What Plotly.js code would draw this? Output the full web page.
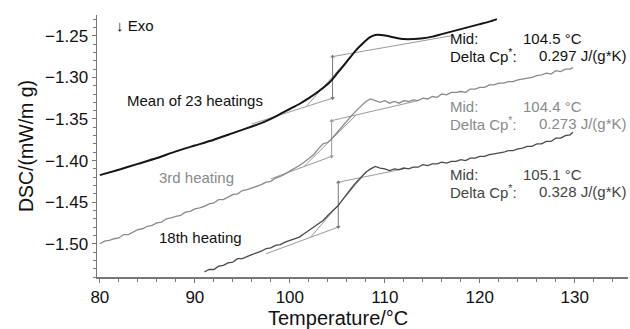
<!DOCTYPE html>
<html><head><meta charset="utf-8">
<script src="https://cdn.plot.ly/plotly-3.0.1.min.js"></script>
<style>html,body{margin:0;padding:0;background:#fff}#c{width:630px;height:329px}</style>
</head><body><div id="c"></div>
<script>
// ---- Data ----
const meanX = [80,82,84,86,88,90,92,94,96,97,98,99,100,101,102,103,104,104.5,105,106,107,107.7,108.4,109,109.6,110.2,111,112,113,114,115,116,117,118,119,120,121,121.8];
const meanY = [-1.4175,-1.411,-1.404,-1.397,-1.389,-1.382,-1.375,-1.367,-1.359,-1.355,-1.350,-1.344,-1.338,-1.332,-1.325,-1.317,-1.308,-1.302,-1.295,-1.281,-1.267,-1.259,-1.252,-1.249,-1.249,-1.250,-1.252,-1.254,-1.254,-1.253,-1.251,-1.248,-1.245,-1.242,-1.239,-1.236,-1.233,-1.230];

const h3X = [80,80.5,81,81.5,82,82.5,83,83.5,84,84.5,85,85.5,86,86.5,87,87.5,88,88.5,89,89.5,90,90.5,91,91.5,92,92.5,93,93.5,94,94.5,95,95.5,96,96.5,97,97.5,98,98.5,99,99.5,100,100.5,101,101.5,102,102.5,103,103.5,104,104.4,105,105.5,106,106.5,107,107.5,108,108.5,109,109.5,110,110.5,111,111.5,112,112.5,113,113.5,114,114.5,115,115.5,116,116.5,117,117.5,118,118.5,119,119.5,120,120.5,121,121.5,122,122.5,123,123.5,124,124.5,125,125.5,126,126.5,127,127.5,128,128.5,129,129.5,129.8];
const h3Y = [-1.500,-1.497,-1.496,-1.494,-1.493,-1.489,-1.489,-1.486,-1.483,-1.482,-1.479,-1.478,-1.475,-1.474,-1.470,-1.469,-1.467,-1.466,-1.462,-1.461,-1.458,-1.457,-1.455,-1.452,-1.451,-1.447,-1.447,-1.444,-1.441,-1.440,-1.436,-1.435,-1.433,-1.431,-1.429,-1.426,-1.425,-1.421,-1.419,-1.416,-1.413,-1.410,-1.406,-1.402,-1.397,-1.393,-1.386,-1.380,-1.378,-1.374,-1.366,-1.359,-1.353,-1.346,-1.340,-1.335,-1.329,-1.326,-1.328,-1.330,-1.328,-1.331,-1.329,-1.331,-1.328,-1.329,-1.327,-1.328,-1.325,-1.326,-1.323,-1.324,-1.320,-1.321,-1.318,-1.318,-1.317,-1.318,-1.314,-1.314,-1.312,-1.312,-1.309,-1.309,-1.307,-1.307,-1.305,-1.305,-1.303,-1.302,-1.301,-1.300,-1.298,-1.297,-1.295,-1.296,-1.292,-1.293,-1.290,-1.290,-1.288];

const h18X = [91,91.5,92,92.5,93,93.5,94,94.5,95,95.5,96,96.5,97,97.5,98,98.5,99,99.5,100,100.5,101,101.5,102,102.5,103,103.5,104,104.5,105.1,105.5,106,106.5,107,107.5,108,108.5,109,109.5,110,110.5,111,111.5,112,112.5,113,113.5,114,114.5,115,115.5,116,116.5,117,117.5,118,118.5,119,119.5,120,120.5,121,121.5,122,122.5,123,123.5,124,124.5,125,125.5,126,126.5,127,127.5,128,128.5,129,129.5,129.8];
const h18Y = [-1.534,-1.531,-1.531,-1.527,-1.526,-1.523,-1.522,-1.518,-1.518,-1.515,-1.513,-1.511,-1.509,-1.506,-1.505,-1.502,-1.501,-1.498,-1.496,-1.494,-1.492,-1.488,-1.484,-1.480,-1.476,-1.472,-1.466,-1.461,-1.454,-1.448,-1.440,-1.433,-1.426,-1.420,-1.414,-1.410,-1.407,-1.409,-1.410,-1.412,-1.410,-1.411,-1.409,-1.410,-1.408,-1.408,-1.405,-1.406,-1.404,-1.404,-1.402,-1.403,-1.401,-1.401,-1.399,-1.400,-1.397,-1.397,-1.395,-1.395,-1.393,-1.392,-1.391,-1.390,-1.388,-1.388,-1.386,-1.385,-1.383,-1.383,-1.380,-1.380,-1.377,-1.377,-1.373,-1.373,-1.370,-1.369,-1.366];

// Glass-transition evaluation construction lines: lower baseline, step arrow, upper baseline, inflection tangent
const meanLowerX = [96,104.5],    meanLowerY = [-1.356,-1.325];
const meanStepX  = [104.5,104.5], meanStepY  = [-1.325,-1.275];
const meanUpperX = [104.5,117],   meanUpperY = [-1.275,-1.250];
const meanTanX   = [101.8,106.7], meanTanY   = [-1.334,-1.271];

const h3LowerX = [98,104.4],    h3LowerY = [-1.422,-1.395];
const h3StepX  = [104.4,104.4], h3StepY  = [-1.395,-1.352];
const h3UpperX = [104.4,113.5], h3UpperY = [-1.352,-1.328];
const h3TanX   = [101.5,107],   h3TanY   = [-1.407,-1.345];

const h18LowerX = [97.5,105.1],  h18LowerY = [-1.512,-1.480];
const h18StepX  = [105.1,105.1], h18StepY  = [-1.480,-1.426];
const h18UpperX = [105.1,112],   h18UpperY = [-1.426,-1.410];
const h18TanX   = [102.2,107.6], h18TanY   = [-1.492,-1.420];

const seriesLabels = ["Mean of 23 heatings","3rd heating","18th heating"];
const midValues = ["104.5 °C","104.4 °C","105.1 °C"];
const cpValues = ["0.297 J/(g*K)","0.273 J/(g*K)","0.328 J/(g*K)"];

// ---- Figure ----
const FONT = "Liberation Sans, Arial, Helvetica, sans-serif";
const cMean = "#151515", c3 = "#8a8a8a", c18 = "#4a4a4a", cCon = "#9a9a9a";

function seg(x, y, color) {
  return {x, y, type:"scatter", mode:"lines", line:{color, width:1}, hoverinfo:"skip", showlegend:false};
}
function step(x, y, color) {
  return {x, y, type:"scatter", mode:"lines+markers", line:{color, width:1},
    marker:{symbol:["triangle-down","triangle-up"], size:4, color}, hoverinfo:"skip", showlegend:false};
}

const traces = [
  seg(meanLowerX, meanLowerY, cCon), seg(meanUpperX, meanUpperY, cCon), seg(meanTanX, meanTanY, cCon), step(meanStepX, meanStepY, "#777"),
  seg(h3LowerX, h3LowerY, cCon), seg(h3UpperX, h3UpperY, cCon), seg(h3TanX, h3TanY, cCon), step(h3StepX, h3StepY, "#999"),
  seg(h18LowerX, h18LowerY, cCon), seg(h18UpperX, h18UpperY, cCon), seg(h18TanX, h18TanY, cCon), step(h18StepX, h18StepY, "#777"),
  {x:h3X, y:h3Y, type:"scatter", mode:"lines", line:{color:c3, width:1.3}, showlegend:false},
  {x:h18X, y:h18Y, type:"scatter", mode:"lines", line:{color:c18, width:1.3}, showlegend:false},
  {x:meanX, y:meanY, type:"scatter", mode:"lines", line:{color:cMean, width:2, shape:"spline", smoothing:0.6}, showlegend:false}
];

function txt(x, y, text, color, size) {
  return {x, y, xref:"x", yref:"y", text, showarrow:false, xanchor:"left", yanchor:"middle",
    font:{family:FONT, size:size||15, color}};
}
const xMid = 116.6, xMidVal = 124.3, xCpVal = 126.0;
const annotations = [
  txt(81.5, -1.238, "↓ Exo", "#111", 15),
  txt(82.6, -1.328, seriesLabels[0], "#111"),
  txt(86.0, -1.420, seriesLabels[1], c3),
  txt(86.0, -1.493, seriesLabels[2], "#111"),
  txt(xMid, -1.2536, "Mid:", "#111"), txt(xMidVal, -1.2536, midValues[0], "#111"),
  txt(xMid, -1.2741, "Delta Cp<sup>*</sup>:", "#111"), txt(xCpVal, -1.2741, cpValues[0], "#111"),
  txt(xMid, -1.3355, "Mid:", c3), txt(xMidVal, -1.3355, midValues[1], c3),
  txt(xMid, -1.3560, "Delta Cp<sup>*</sup>:", c3), txt(xCpVal, -1.3560, cpValues[1], c3),
  txt(xMid, -1.4163, "Mid:", "#444"), txt(xMidVal, -1.4163, midValues[2], "#444"),
  txt(xMid, -1.4367, "Delta Cp<sup>*</sup>:", "#444"), txt(xCpVal, -1.4367, cpValues[2], "#444"),
  // x-axis title (placed left of centre, as in the reference)
  {x:0.454, y:-0.158, xref:"paper", yref:"paper", text:"Temperature/°C", showarrow:false,
   xanchor:"center", yanchor:"middle", font:{family:FONT, size:20, color:"#111"}}
];

const axCol = "#777";
const layout = {
  width:630, height:329,
  margin:{l:97, r:2, t:15, b:52},
  paper_bgcolor:"#fff", plot_bgcolor:"#fff",
  font:{family:FONT, color:"#111"},
  showlegend:false,
  xaxis:{range:[79.7,135.6], dtick:10, tick0:80, ticks:"outside", ticklen:4, tickwidth:1, tickcolor:axCol,
    showline:true, linecolor:axCol, linewidth:1.5, showgrid:false, zeroline:false,
    minor:{dtick:2, ticks:"outside", ticklen:3, tickcolor:axCol, showgrid:false},
    tickfont:{family:FONT, size:17, color:"#111"}},
  yaxis:{range:[-1.540,-1.225], dtick:0.05, tick0:-1.5, tickformat:".2f", ticks:"outside", ticklen:4, tickwidth:1, tickcolor:axCol,
    showline:true, linecolor:axCol, linewidth:1.5, showgrid:false, zeroline:false,
    minor:{dtick:0.01, ticks:"outside", ticklen:3, tickcolor:axCol, showgrid:false},
    tickfont:{family:FONT, size:17, color:"#111"},
    title:{text:"DSC/(mW/m g)", font:{family:FONT, size:19.5, color:"#111"}, standoff:6}},
  annotations
};

Plotly.newPlot("c", traces, layout, {staticPlot:true, displayModeBar:false});
</script>
</body></html>
